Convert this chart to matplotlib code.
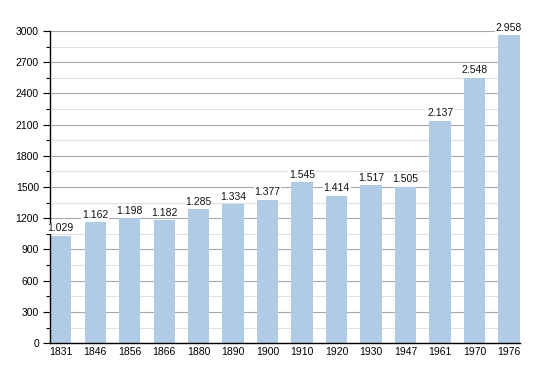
import matplotlib.pyplot as plt
from matplotlib.ticker import MultipleLocator

plt.rcParams['font.family'] = ['Liberation Sans', 'DejaVu Sans']

years = ['1831', '1846', '1856', '1866', '1880', '1890', '1900',
         '1910', '1920', '1930', '1947', '1961', '1970', '1976']
population = [1029, 1162, 1198, 1182, 1285, 1334, 1377,
              1545, 1414, 1517, 1505, 2137, 2548, 2958]
value_labels = ['1.029', '1.162', '1.198', '1.182', '1.285', '1.334', '1.377',
                '1.545', '1.414', '1.517', '1.505', '2.137', '2.548', '2.958']

fig = plt.figure(figsize=(5.5, 3.73), dpi=100)
ax = fig.add_axes([0.091, 0.080, 0.854, 0.837])

x = range(len(years))
w = 0.62
ax.bar(x, population, width=w, color='#b0cbe5', zorder=2)

for i, (v, lab) in enumerate(zip(population, value_labels)):
    ax.text(i, v + 25, lab, ha='center', va='bottom', fontsize=7.5,
            color='#111111', zorder=3,
            bbox=dict(facecolor='white', edgecolor='none', pad=0.6))

ax.set_xlim(-w / 2, len(years) - 1 + w / 2)
ax.set_ylim(0, 3000)
ax.set_xticks(list(x))
ax.set_xticklabels(years)
ax.yaxis.set_major_locator(MultipleLocator(300))
ax.yaxis.set_minor_locator(MultipleLocator(150))
ax.grid(axis='y', which='major', color='#a8a8a8', lw=0.8, zorder=0)
ax.grid(axis='y', which='minor', color='#e0e0e0', lw=0.8, zorder=0)

for s in ['top', 'right']:
    ax.spines[s].set_visible(False)
ax.spines['left'].set_linewidth(1.0)
ax.spines['bottom'].set_linewidth(1.0)
ax.tick_params(axis='y', which='major', length=5, width=0.8, labelsize=7.5, pad=3)
ax.tick_params(axis='y', which='minor', length=3, width=0.8)
ax.tick_params(axis='x', length=0, labelsize=7.5, pad=3)

fig.savefig('out.png', dpi=100)
